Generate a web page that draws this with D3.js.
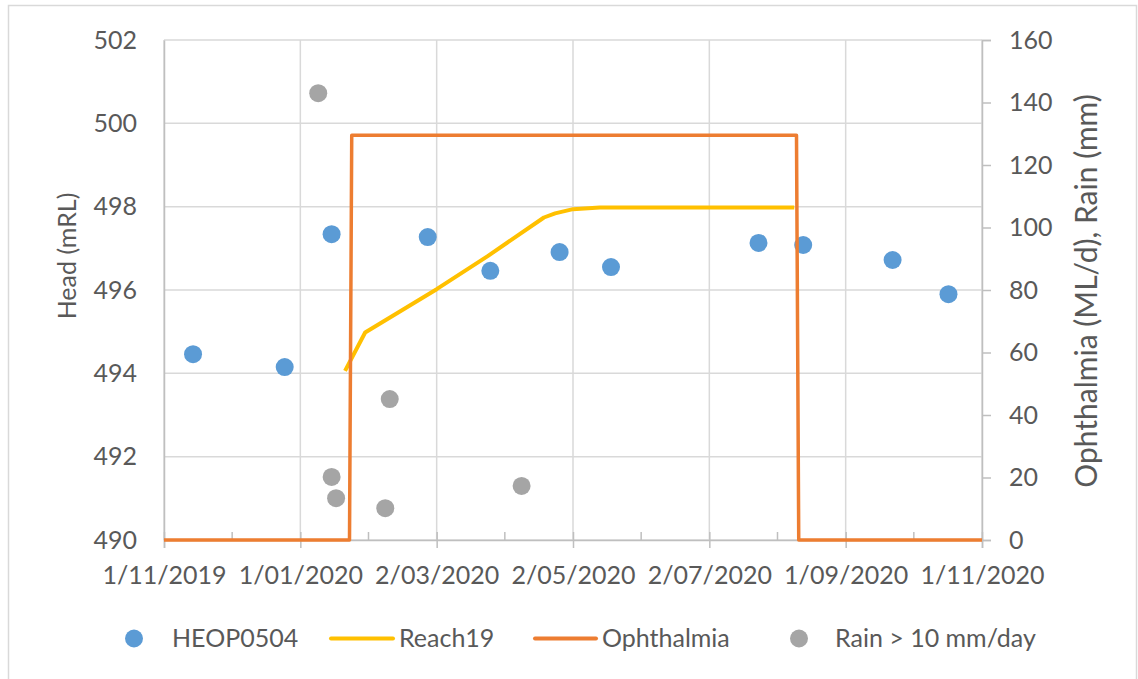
<!DOCTYPE html>
<html>
<head>
<meta charset="utf-8">
<script src="https://cdn.jsdelivr.net/npm/d3@7"></script>
<style>
  html, body { margin: 0; padding: 0; background: #fff; }
  svg { display: block; font-family: Lato, "Open Sans", sans-serif; }
</style>
</head>
<body>
<svg id="chart" width="1138" height="679"></svg>
<script>
// Bore HEOP0504 observed head (mRL)
const headDates = ["2019-11-14","2019-12-25","2020-01-15","2020-02-27","2020-03-26","2020-04-26","2020-05-19","2020-07-24","2020-08-13","2020-09-22","2020-10-17"];
const headValues = [494.46, 494.15, 497.34, 497.27, 496.46, 496.91, 496.55, 497.13, 497.08, 496.72, 495.90];

// Modelled head, Reach19 (mRL)
const reachDates = ["2020-01-21","2020-01-30","2020-03-02","2020-03-25","2020-04-19","2020-04-24","2020-05-02","2020-05-14","2020-08-09"];
const reachValues = [494.06, 494.98, 496.02, 496.82, 497.74, 497.84, 497.94, 497.98, 497.98];

// Ophthalmia release (ML/d)
const ophDates = ["2019-11-01","2020-01-23","2020-01-24","2020-08-10","2020-08-11","2020-11-01"];
const ophValues = [0, 0, 129.5, 129.5, 0, 0];

// Daily rain above 10 mm (mm)
const rainDates = ["2020-01-09","2020-01-15","2020-01-17","2020-02-08","2020-02-10","2020-04-09"];
const rainValues = [143.0, 20.2, 13.4, 10.2, 45.1, 17.3];

// Axis ticks
const xTickDates = ["2019-11-01","2020-01-01","2020-03-02","2020-05-02","2020-07-02","2020-09-01","2020-11-01"];
const xTickLabels = ["1/11/2019","1/01/2020","2/03/2020","2/05/2020","2/07/2020","1/09/2020","1/11/2020"];
const leftTicks = [490, 492, 494, 496, 498, 500, 502];
const rightTicks = [0, 20, 40, 60, 80, 100, 120, 140, 160];

const seriesNames = ["HEOP0504", "Reach19", "Ophthalmia", "Rain > 10 mm/day"];
const colors = { head: "#5B9BD5", reach: "#FFC000", oph: "#ED7D31", rain: "#A5A5A5" };

const parse = d3.utcParse("%Y-%m-%d");
const svg = d3.select("#chart");
const W = 1138, H = 679;
const m = { left: 164, right: 156, top: 40, bottom: 139 };
const iw = W - m.left - m.right, ih = H - m.top - m.bottom;
const textColor = "#595959";
const fontSize = 25;
const fontFamily = "Lato, 'Open Sans', sans-serif";

// chart frame
svg.append("rect").attr("x", 8.5).attr("y", 5.5).attr("width", W - 10).attr("height", H + 10)
  .attr("fill", "#fff").attr("stroke", "#D9D9D9").attr("stroke-width", 1.5);

const xTicks = xTickDates.map(parse);
const x = d3.scaleUtc().domain([xTicks[0], xTicks[xTicks.length - 1]]).range([0, iw]);
const yL = d3.scaleLinear().domain([490, 502]).range([ih, 0]);
const yR = d3.scaleLinear().domain([0, 160]).range([ih, 0]);

const g = svg.append("g").attr("transform", `translate(${m.left},${m.top})`);

// gridlines
g.append("g").selectAll("line").data(leftTicks).join("line")
  .attr("x1", 0).attr("x2", iw).attr("y1", d => yL(d)).attr("y2", d => yL(d))
  .attr("stroke", "#D9D9D9").attr("stroke-width", 1.5);
g.append("g").selectAll("line").data(xTicks).join("line")
  .attr("x1", d => x(d)).attr("x2", d => x(d)).attr("y1", 0).attr("y2", ih)
  .attr("stroke", "#D9D9D9").attr("stroke-width", 1.5);

// minor ticks halfway between the labelled dates
const minorTicks = d3.pairs(xTicks).map(([a, b]) => new Date((+a + +b) / 2));

// bottom axis
const xAxis = g.append("g").attr("transform", `translate(0,${ih})`)
  .call(d3.axisBottom(x).tickValues(xTicks).tickFormat((d, i) => xTickLabels[i]).tickSize(8).tickPadding(18));
xAxis.select(".domain").attr("stroke", "#BFBFBF").attr("stroke-width", 1.5);
xAxis.selectAll(".tick line").attr("stroke", "#BFBFBF").attr("stroke-width", 1.5).attr("y1", -8);
xAxis.selectAll(".tick text").attr("fill", textColor).attr("font-size", fontSize).attr("font-family", fontFamily);
g.append("g").selectAll("line").data(minorTicks).join("line")
  .attr("x1", d => x(d)).attr("x2", d => x(d)).attr("y1", ih - 8).attr("y2", ih)
  .attr("stroke", "#BFBFBF").attr("stroke-width", 1.5);

// left axis
const yAxisL = g.append("g")
  .call(d3.axisLeft(yL).tickValues(leftTicks).tickSize(0).tickPadding(27));
yAxisL.select(".domain").attr("stroke", "#BFBFBF").attr("stroke-width", 1.5);
yAxisL.selectAll(".tick text").attr("fill", textColor).attr("font-size", fontSize).attr("font-family", fontFamily);

// right axis
const yAxisR = g.append("g").attr("transform", `translate(${iw},0)`)
  .call(d3.axisRight(yR).tickValues(rightTicks).tickSize(9).tickPadding(18));
yAxisR.select(".domain").attr("stroke", "#BFBFBF").attr("stroke-width", 1.5);
yAxisR.selectAll(".tick line").attr("stroke", "#BFBFBF").attr("stroke-width", 1.5);
yAxisR.selectAll(".tick text").attr("fill", textColor).attr("font-size", fontSize).attr("font-family", fontFamily);

// axis titles
svg.append("text").attr("transform", "translate(76,256) rotate(-90)")
  .attr("text-anchor", "middle").attr("fill", textColor).attr("font-size", fontSize).text("Head (mRL)");
svg.append("text").attr("transform", "translate(1097,291) rotate(-90)")
  .attr("text-anchor", "middle").attr("fill", textColor).attr("font-size", 30).text("Ophthalmia (ML/d), Rain (mm)");

// HEOP0504 points
g.append("g").selectAll("circle").data(headDates.map((d, i) => [parse(d), headValues[i]])).join("circle")
  .attr("cx", d => x(d[0])).attr("cy", d => yL(d[1])).attr("r", 9).attr("fill", colors.head);

// Reach19 line
const reachLine = d3.line().x(d => x(d[0])).y(d => yL(d[1]));
g.append("path").datum(reachDates.map((d, i) => [parse(d), reachValues[i]]))
  .attr("d", reachLine).attr("fill", "none").attr("stroke", colors.reach)
  .attr("stroke-width", 4).attr("stroke-linejoin", "round");

// Ophthalmia line
const ophLine = d3.line().x(d => x(d[0])).y(d => yR(d[1]));
g.append("path").datum(ophDates.map((d, i) => [parse(d), ophValues[i]]))
  .attr("d", ophLine).attr("fill", "none").attr("stroke", colors.oph)
  .attr("stroke-width", 3.5).attr("stroke-linejoin", "round");

// Rain points
g.append("g").selectAll("circle").data(rainDates.map((d, i) => [parse(d), rainValues[i]])).join("circle")
  .attr("cx", d => x(d[0])).attr("cy", d => yR(d[1])).attr("r", 9).attr("fill", colors.rain);

// legend
const lg = svg.append("g").attr("font-size", fontSize).attr("fill", textColor);
const ly = 638.5;
lg.append("circle").attr("cx", 134).attr("cy", ly).attr("r", 9).attr("fill", colors.head);
lg.append("text").attr("x", 172).attr("y", ly).attr("dy", "0.35em").text(seriesNames[0]);
lg.append("line").attr("x1", 331).attr("x2", 393).attr("y1", ly).attr("y2", ly)
  .attr("stroke", colors.reach).attr("stroke-width", 4).attr("stroke-linecap", "round");
lg.append("text").attr("x", 399).attr("y", ly).attr("dy", "0.35em").text(seriesNames[1]);
lg.append("line").attr("x1", 535).attr("x2", 596).attr("y1", ly).attr("y2", ly)
  .attr("stroke", colors.oph).attr("stroke-width", 4).attr("stroke-linecap", "round");
lg.append("text").attr("x", 602).attr("y", ly).attr("dy", "0.35em").text(seriesNames[2]);
lg.append("circle").attr("cx", 799).attr("cy", ly).attr("r", 9).attr("fill", colors.rain);
lg.append("text").attr("x", 835).attr("y", ly).attr("dy", "0.35em").text(seriesNames[3]);
</script>
</body>
</html>
